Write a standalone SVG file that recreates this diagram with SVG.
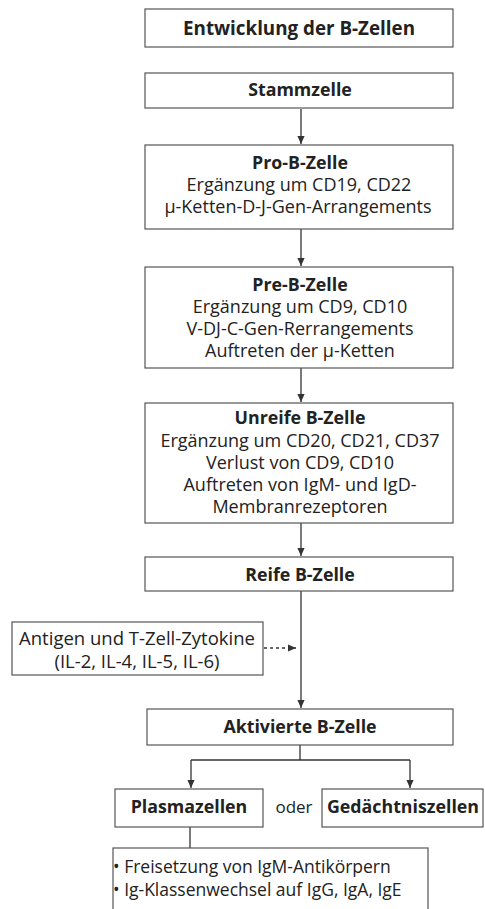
<svg xmlns="http://www.w3.org/2000/svg" width="485" height="909" viewBox="0 0 485 909">
<style>
.box{fill:#fff;stroke:#555;stroke-width:1.2}
.t{font-family:"Open Sans","Liberation Sans",sans-serif;font-size:18px;fill:#222;text-anchor:middle}
.b{font-weight:bold;font-size:17.8px}
.l{font-family:"Open Sans","Liberation Sans",sans-serif;font-size:17.5px;fill:#222}
.c{stroke:#333;stroke-width:1.3;fill:none}
.d{stroke:#333;stroke-width:1.3;fill:none;stroke-dasharray:3 3}
</style>
<defs>
<marker id="ah" viewBox="0 0 10 10" refX="10" refY="5" markerWidth="8" markerHeight="8" markerUnits="userSpaceOnUse" orient="auto">
<path d="M0,0.5 L10,5 L0,9.5 Z" fill="#333"/>
</marker>
</defs>
<rect width="485" height="909" fill="#fff"/>
<g id="connectors">
<line class="c" x1="301" y1="109" x2="301" y2="144" marker-end="url(#ah)"/>
<line class="c" x1="301" y1="229" x2="301" y2="266" marker-end="url(#ah)"/>
<line class="c" x1="301" y1="368" x2="301" y2="402" marker-end="url(#ah)"/>
<line class="c" x1="301" y1="523" x2="301" y2="556" marker-end="url(#ah)"/>
<line class="c" x1="301" y1="591" x2="301" y2="708" marker-end="url(#ah)"/>
<line class="d" x1="264" y1="648" x2="296" y2="648" marker-end="url(#ah)"/>
<polyline class="c" points="300,745 300,760"/>
<line class="c" x1="191" y1="760" x2="410" y2="760"/>
<line class="c" x1="191" y1="760" x2="191" y2="788" marker-end="url(#ah)"/>
<line class="c" x1="410" y1="760" x2="410" y2="788" marker-end="url(#ah)"/>
<line class="c" x1="190" y1="827" x2="190" y2="848"/>
</g>
<g id="title">
<rect class="box" x="145" y="9" width="308" height="38"/>
<text class="t b" x="299" y="35" style="font-size:18.8px">Entwicklung der B-Zellen</text>
</g>
<g id="stammzelle">
<rect class="box" x="145" y="73" width="308" height="35"/>
<text class="t b" x="300" y="96">Stammzelle</text>
</g>
<g id="pro-b">
<rect class="box" x="145" y="145" width="308" height="84"/>
<text class="t b" x="300" y="169">Pro-B-Zelle</text>
<text class="t" x="299" y="191">Ergänzung um CD19, CD22</text>
<text class="t" x="298" y="213">μ-Ketten-D-J-Gen-Arrangements</text>
</g>
<g id="pre-b">
<rect class="box" x="145" y="267" width="308" height="101"/>
<text class="t b" x="300" y="291">Pre-B-Zelle</text>
<text class="t" x="300" y="313">Ergänzung um CD9, CD10</text>
<text class="t" x="300" y="335">V-DJ-C-Gen-Rerrangements</text>
<text class="t" x="300" y="357">Auftreten der μ-Ketten</text>
</g>
<g id="unreife">
<rect class="box" x="145" y="403" width="308" height="120"/>
<text class="t b" x="300" y="424">Unreife B-Zelle</text>
<text class="t" x="300" y="447">Ergänzung um CD20, CD21, CD37</text>
<text class="t" x="300" y="469">Verlust von CD9, CD10</text>
<text class="t" x="300" y="491">Auftreten von IgM- und IgD-</text>
<text class="t" x="300" y="513">Membranrezeptoren</text>
</g>
<g id="reife">
<rect class="box" x="145" y="557" width="308" height="34"/>
<text class="t b" x="300" y="581">Reife B-Zelle</text>
</g>
<g id="antigen">
<rect class="box" x="12" y="622" width="251" height="53"/>
<text class="t" x="137" y="645" style="font-size:18.5px">Antigen und T-Zell-Zytokine</text>
<text class="t" x="137" y="668" style="font-size:18.5px">(IL-2, IL-4, IL-5, IL-6)</text>
</g>
<g id="aktivierte">
<rect class="box" x="147" y="709" width="306" height="36"/>
<text class="t b" x="300" y="733">Aktivierte B-Zelle</text>
</g>
<g id="plasmazellen">
<rect class="box" x="115" y="789" width="148" height="38"/>
<text class="t b" x="189" y="813">Plasmazellen</text>
</g>
<g id="oder">
<text class="t" x="294" y="813" style="font-size:17px">oder</text>
</g>
<g id="gedaechtniszellen">
<rect class="box" x="322" y="789" width="161" height="38"/>
<text class="t b" x="403" y="813">Gedächtniszellen</text>
</g>
<g id="plasma-details">
<rect class="box" x="113" y="848" width="315" height="70"/>
<text class="l" x="113" y="873">• Freisetzung von IgM-Antikörpern</text>
<text class="l" x="113" y="896">• Ig-Klassenwechsel auf IgG, IgA, IgE</text>
</g>
</svg>
